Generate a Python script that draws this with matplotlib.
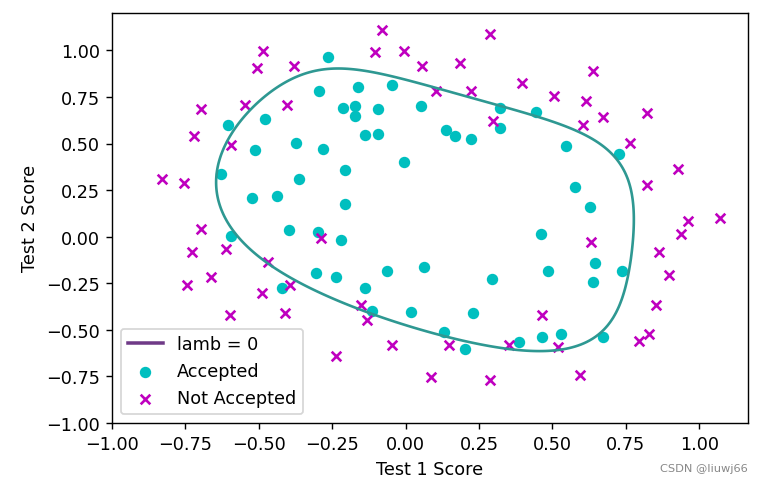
import numpy as np
import matplotlib
matplotlib.use('Agg')
import matplotlib.pyplot as plt
from matplotlib.lines import Line2D

# ex2data2: microchip test scores
test1 = [0.051267, -0.092742, -0.21371, -0.375, -0.51325, -0.52477, -0.39804, -0.30588, 0.016705, 0.13191,
         0.38537, 0.52938, 0.63882, 0.73675, 0.54666, 0.322, 0.16647, -0.046659, -0.17339, -0.47869,
         -0.60541, -0.62846, -0.59389, -0.42108, -0.11578, 0.20104, 0.46601, 0.67339, -0.13882, -0.29435,
         -0.26555, -0.16187, -0.17339, -0.28283, -0.36348, -0.30012, -0.23675, -0.06394, 0.062788, 0.22984,
         0.2932, 0.48329, 0.64459, 0.46025, 0.6273, 0.57546, 0.72523, 0.22408, 0.44297, 0.322,
         0.13767, -0.0063364, -0.092742, -0.20795, -0.20795, -0.43836, -0.21947, -0.13882,
         0.18376, 0.22408, 0.29896, 0.50634, 0.61578, 0.60426, 0.76555, 0.92684, 0.82316, 0.96141,
         0.93836, 0.86348, 0.89804, 0.85196, 0.82892, 0.79435, 0.59274, 0.51786, 0.46601, 0.35081,
         0.28744, 0.085829, 0.14919, -0.13306, -0.40956, -0.39228, -0.74366, -0.69758, -0.75518, -0.69758,
         -0.4038, -0.38076, -0.50749, -0.54781, 0.10311, 0.057028, -0.10426, -0.081221, 0.28744, 0.39689,
         0.63882, 0.82316, 0.67339, 1.0709, -0.046659, -0.23675, -0.15035, -0.49021, -0.46717, -0.28859,
         -0.61118, -0.66302, -0.59965, -0.72638, -0.83007, -0.72062, -0.59389, -0.48445, -0.0063364, 0.63265]
test2 = [0.69956, 0.68494, 0.69225, 0.50219, 0.46564, 0.2098, 0.034357, -0.19225, -0.40424, -0.51389,
         -0.56506, -0.5212, -0.24342, -0.18494, 0.48757, 0.5826, 0.53874, 0.81652, 0.69956, 0.63377,
         0.59722, 0.33406, 0.005117, -0.27266, -0.39693, -0.60161, -0.53582, -0.53582, 0.54605, 0.77997,
         0.96272, 0.8019, 0.64839, 0.47295, 0.31213, 0.027047, -0.21418, -0.18494, -0.16301, -0.41155,
         -0.2288, -0.18494, -0.14108, 0.012427, 0.15863, 0.26827, 0.44371, 0.52412, 0.67032, 0.69225,
         0.57529, 0.39985, 0.55336, 0.35599, 0.17325, 0.21711, -0.016813, -0.27266,
         0.93348, 0.77997, 0.61915, 0.75804, 0.7288, 0.59722, 0.50219, 0.3633, 0.27558, 0.085526,
         0.012427, -0.082602, -0.20687, -0.36769, -0.5212, -0.55775, -0.7405, -0.5943, -0.41886, -0.57968,
         -0.76974, -0.75512, -0.57968, -0.4481, -0.41155, -0.25804, -0.25804, 0.041667, 0.2902, 0.68494,
         0.70687, 0.91886, 0.90424, 0.70687, 0.77997, 0.91886, 0.99196, 1.1089, 1.087, 0.82383,
         0.88962, 0.66301, 0.64108, 0.10015, -0.57968, -0.63816, -0.36769, -0.3019, -0.13377, -0.0060673,
         -0.067982, -0.21418, -0.41886, -0.082602, 0.31213, 0.53874, 0.49488, 0.99927, 0.99927, -0.030612]
accepted = [1] * 58 + [0] * 60

lamb = 0
alpha = 1.0
iters = 10000
degree = 6


def map_feature(x1, x2):
    cols = []
    for i in range(degree + 1):
        for j in range(i + 1):
            cols.append((x1 ** (i - j)) * (x2 ** j))
    return np.stack(cols, axis=-1)


x1 = np.array(test1)
x2 = np.array(test2)
y = np.array(accepted, dtype=float)

# logistic regression by batch gradient descent
X = map_feature(x1, x2)
m = len(y)
theta = np.zeros(X.shape[1])
for _ in range(iters):
    h = 1 / (1 + np.exp(-X @ theta))
    grad = X.T @ (h - y) / m
    grad[1:] += lamb / m * theta[1:]
    theta -= alpha * grad

gx = np.linspace(-1, 1.5, 250)
gy = np.linspace(-1, 1.5, 250)
GX, GY = np.meshgrid(gx, gy)
Z = map_feature(GX, GY) @ theta

fig, ax = plt.subplots(figsize=(6.0, 3.88), dpi=126.5)
fig.subplots_adjust(left=0.1476, right=0.9855, top=0.9715, bottom=0.1365)

ax.contour(GX, GY, Z, levels=[0], colors='#2e9892', linewidths=1.5)
pos = y == 1
ax.scatter(x1[pos], x2[pos], c='c', marker='o', s=30, label='Accepted')
ax.scatter(x1[~pos], x2[~pos], c='m', marker='x', s=30, label='Not Accepted')

ax.set_xlim(-1, 1.166)
ax.set_ylim(-1, 1.2)
ax.set_xlabel('Test 1 Score')
ax.set_ylabel('Test 2 Score')

handles, labels = ax.get_legend_handles_labels()
proxy = Line2D([], [], color='#6f3a87', lw=2)
ax.legend([proxy] + handles, ['lamb = %d' % lamb] + labels, loc='lower left')

fig.text(0.985, 0.045, 'CSDN @liuwj66', ha='right', va='center', fontsize=6.5, color='#888888')

fig.savefig('out.png')
